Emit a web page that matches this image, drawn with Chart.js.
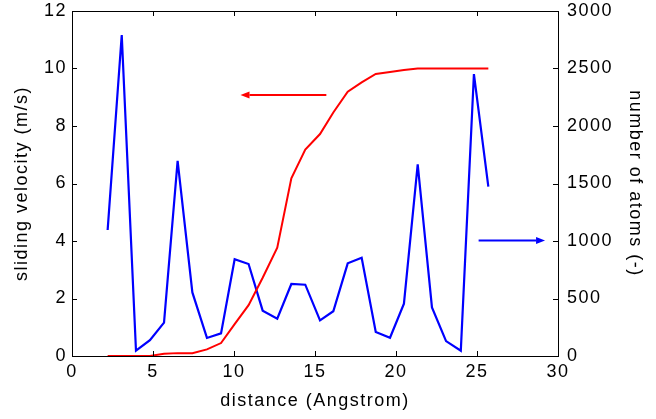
<!DOCTYPE html>
<html>
<head>
<meta charset="utf-8">
<script src="https://cdn.jsdelivr.net/npm/chart.js@4.4.1/dist/chart.umd.min.js"></script>
<style>
  html, body { margin: 0; padding: 0; background: #fff; }
  #wrap { width: 656px; height: 419px; }
</style>
</head>
<body>
<div id="wrap"><canvas id="chart" width="656" height="419"></canvas></div>
<script>
// distance (Angstrom) for each sample
const distance = [2.2, 3.07, 3.95, 4.81, 5.68, 6.52, 7.43, 8.33, 9.2, 10.04, 10.9, 11.77, 12.67, 13.54,
                  14.4, 15.31, 16.13, 17.02, 17.88, 18.75, 19.63, 20.49, 21.34, 22.22, 23.09, 24.0, 24.81, 25.7];
// sliding velocity (m/s), left axis
const velocity = [0, 0, 0, 0, 0.08, 0.1, 0.1, 0.23, 0.45, 1.11, 1.77, 2.72, 3.77, 6.18,
                  7.18, 7.72, 8.47, 9.19, 9.52, 9.81, 9.88, 9.95, 10.0, 10.0, 10.0, 10.0, 10.0, 10.0];
// number of atoms, right axis
const atoms = [1096, 2791, 46, 137, 290, 1696, 553, 157, 197, 841, 800, 394, 324, 626,
               620, 310, 389, 806, 855, 209, 159, 455, 1667, 423, 130, 46, 2452, 1472];

// arrows pointing at the axis each curve belongs to
const redArrowX = [15.7, 10.4];
const redArrowY = [9.08, 9.08];
const blueArrowX = [25.1, 29.2];
const blueArrowY = [1005, 1005];

const FONT = '"Liberation Sans", Arial, sans-serif';

function drawArrow(ctx, x1, y1, x2, y2, color) {
    const ang = Math.atan2(y2 - y1, x2 - x1);
    const len = 9, half = 3.5;
    ctx.save();
    ctx.strokeStyle = color;
    ctx.fillStyle = color;
    ctx.lineWidth = 2;
    ctx.beginPath();
    ctx.moveTo(x1, y1);
    ctx.lineTo(x2 - len * Math.cos(ang), y2 - len * Math.sin(ang));
    ctx.stroke();
    ctx.beginPath();
    ctx.moveTo(x2, y2);
    ctx.lineTo(x2 - len * Math.cos(ang) - half * Math.sin(ang), y2 - len * Math.sin(ang) + half * Math.cos(ang));
    ctx.lineTo(x2 - len * Math.cos(ang) + half * Math.sin(ang), y2 - len * Math.sin(ang) - half * Math.cos(ang));
    ctx.closePath();
    ctx.fill();
    ctx.restore();
}

// matlab text is spaced a bit wider than the canvas default
const spacingPlugin = {
    id: 'spacing',
    beforeLayout(chart) { chart.ctx.letterSpacing = '1.5px'; },
    beforeDraw(chart) { chart.ctx.letterSpacing = '1.5px'; }
};

// box, inward ticks and arrows, drawn like the matlab figure
const framePlugin = {
    id: 'frame',
    afterDatasetsDraw(chart) {
        const ctx = chart.ctx;
        const a = chart.chartArea;
        const sx = chart.scales.x, sl = chart.scales.y, sr = chart.scales.y2;
        const tl = 5;
        ctx.save();
        ctx.strokeStyle = '#000';
        ctx.lineWidth = 1;
        ctx.beginPath();
        sx.ticks.forEach(t => {
            const p = Math.round(sx.getPixelForValue(t.value)) + 0.5;
            ctx.moveTo(p, a.bottom); ctx.lineTo(p, a.bottom - tl);
            ctx.moveTo(p, a.top); ctx.lineTo(p, a.top + tl);
        });
        sl.ticks.forEach(t => {
            const p = Math.round(sl.getPixelForValue(t.value)) + 0.5;
            ctx.moveTo(a.left, p); ctx.lineTo(a.left + tl, p);
        });
        sr.ticks.forEach(t => {
            const p = Math.round(sr.getPixelForValue(t.value)) + 0.5;
            ctx.moveTo(a.right, p); ctx.lineTo(a.right - tl, p);
        });
        ctx.stroke();
        ctx.strokeRect(Math.round(a.left) + 0.5, Math.round(a.top) + 0.5,
                       Math.round(a.right - a.left), Math.round(a.bottom - a.top));
        ctx.restore();

        drawArrow(ctx, sx.getPixelForValue(redArrowX[0]), sl.getPixelForValue(redArrowY[0]),
                  sx.getPixelForValue(redArrowX[1]), sl.getPixelForValue(redArrowY[1]), '#ff0000');
        drawArrow(ctx, sx.getPixelForValue(blueArrowX[0]), sr.getPixelForValue(blueArrowY[0]),
                  sx.getPixelForValue(blueArrowX[1]), sr.getPixelForValue(blueArrowY[1]), '#0000ff');
    }
};

const tickFont = { family: FONT, size: 18 };
const titleFont = { family: FONT, size: 18 };

new Chart(document.getElementById('chart'), {
    type: 'scatter',
    data: {
        datasets: [{
            label: 'sliding velocity',
            data: distance.map((d, i) => ({ x: d, y: velocity[i] })),
            showLine: true,
            borderColor: '#ff0000',
            borderWidth: 2,
            pointRadius: 0,
            yAxisID: 'y'
        }, {
            label: 'number of atoms',
            data: distance.map((d, i) => ({ x: d, y: atoms[i] })),
            showLine: true,
            borderColor: '#0000ff',
            borderWidth: 2.2,
            pointRadius: 0,
            yAxisID: 'y2'
        }]
    },
    options: {
        responsive: false,
        animation: false,
        layout: { padding: { top: 11, left: 0, right: 0, bottom: 0 } },
        plugins: { legend: { display: false }, tooltip: { enabled: false } },
        scales: {
            x: {
                type: 'linear', min: 0, max: 30,
                grid: { display: false, drawTicks: false },
                border: { display: false },
                ticks: { stepSize: 5, color: '#000', font: tickFont, padding: 5, maxRotation: 0,
                         callback: v => String(v) },
                title: { display: true, text: 'distance (Angstrom)', color: '#000', font: titleFont, padding: { top: 0, bottom: 7 } },
                afterFit(s) { s.height = 63; s.paddingLeft = 0; s.paddingRight = 0; }
            },
            y: {
                position: 'left', min: 0, max: 12,
                grid: { display: false, drawTicks: false },
                border: { display: false },
                ticks: { stepSize: 2, color: '#000', font: tickFont, padding: 5, callback: v => String(v) },
                title: { display: true, text: 'sliding velocity (m/s)', color: '#000', font: titleFont, padding: { top: 11, bottom: 0 } },
                afterFit(s) { s.width = 72; s.paddingTop = 0; s.paddingBottom = 0; }
            },
            y2: {
                position: 'right', min: 0, max: 3000,
                grid: { display: false, drawTicks: false },
                border: { display: false },
                ticks: { stepSize: 500, color: '#000', font: tickFont, padding: 9, callback: v => String(v) },
                title: { display: true, text: 'number of atoms (-)', color: '#000', font: titleFont, padding: { top: 10, bottom: 0 } },
                afterFit(s) { s.width = 98; s.paddingTop = 0; s.paddingBottom = 0; }
            }
        }
    },
    plugins: [spacingPlugin, framePlugin]
});
</script>
</body>
</html>
